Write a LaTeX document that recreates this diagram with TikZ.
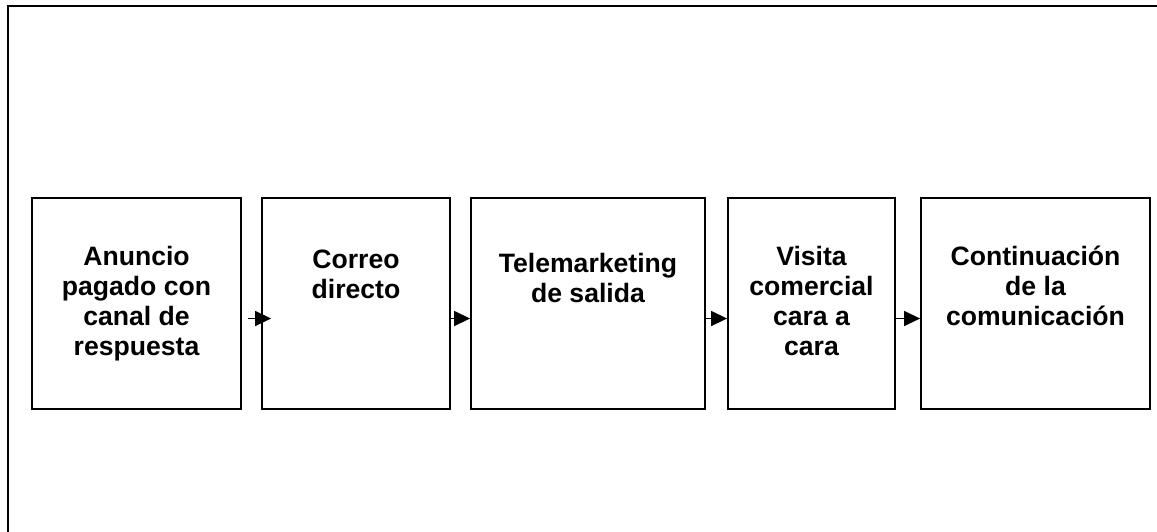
\documentclass[tikz,border=0pt]{standalone}
\usepackage{fontspec}
\setmainfont{Liberation Sans}
\usetikzlibrary{arrows.meta}
\begin{document}
\begin{tikzpicture}[x=1pt, y=-1pt,
  stepbox/.style={draw, line width=1.8pt, minimum height=211pt, inner sep=0pt},
  boxtext/.style={anchor=base, align=center, inner sep=0pt,
    font=\bfseries\fontsize{26.6}{30.3}\selectfont},
  flow/.style={line width=1.4pt, -{Triangle[length=16pt, width=15pt]}}]
  \useasboundingbox (0,0) rectangle (1157,531);
  % outer frame, only the top and left sides fall inside the page
  \draw[line width=2.2pt] (8,540) -- (8,6) -- (1170,6);

  % stages
  \node[stepbox, minimum width=209pt] (b1) at (136.5,303.5) {};
  \node[stepbox, minimum width=188pt] (b2) at (356,303.5) {};
  \node[stepbox, minimum width=234pt] (b3) at (588,303.5) {};
  \node[stepbox, minimum width=167pt] (b4) at (811.5,303.5) {};
  \node[stepbox, minimum width=229pt] (b5) at (1035.5,303.5) {};

  % stage labels (anchored on the baseline of the last line)
  \node[boxtext] (t1) at (136.5,355.9) {Anuncio\\pagado con\\canal de\\respuesta};
  \node[boxtext] (t2) at (356,298.3) {Correo\\directo};
  \node[boxtext] (t3) at (588,302.5) {Telemarketing\\de salida};
  \node[boxtext] (t4) at (811.5,355.9) {Visita\\comercial\\cara a\\cara};
  \node[boxtext] (t5) at (1035.5,325.6) {Continuación\\de la\\comunicación};

  % connectors
  \draw[flow] ([xshift=6pt, yshift=-15pt]b1.east) -- ([xshift=10pt, yshift=-15pt]b2.west);
  \draw[flow] ([yshift=-15pt]b2.east) -- ([yshift=-15pt]b3.west);
  \draw[flow] ([yshift=-15pt]b3.east) -- ([yshift=-15pt]b4.west);
  \draw[flow] ([yshift=-15pt]b4.east) -- ([yshift=-15pt]b5.west);
\end{tikzpicture}
\end{document}
